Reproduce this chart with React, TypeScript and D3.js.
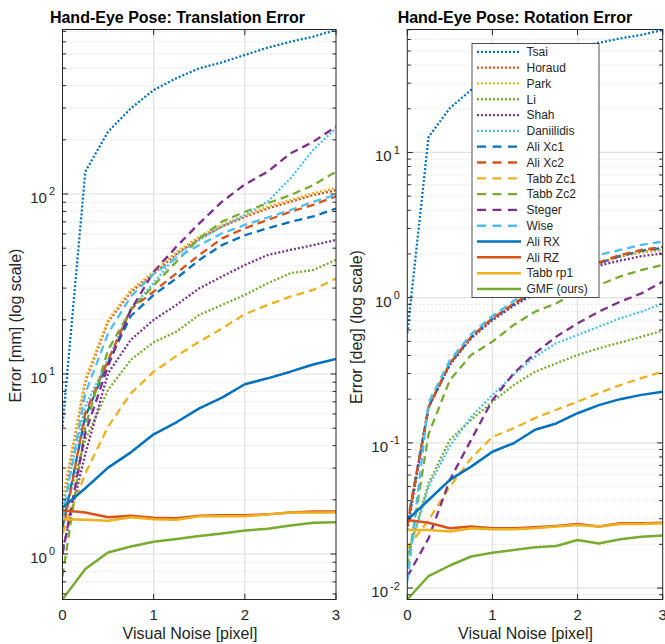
import React, { useEffect, useRef } from "react";
import * as d3 from "d3";

// noise levels on the x axis [pixel]
const noise = [0, 0.25, 0.5, 0.75, 1, 1.25, 1.5, 1.75, 2, 2.25, 2.5, 2.75, 3];

const methods = [
  "Tsai", "Horaud", "Park", "Li", "Shah", "Daniilidis",
  "Ali Xc1", "Ali Xc2", "Tabb Zc1", "Tabb Zc2", "Steger", "Wise",
  "Ali RX", "Ali RZ", "Tabb rp1", "GMF (ours)",
];

// translation error [mm]
const transTsai = [5.1, 133, 222, 299, 378, 440, 499, 539, 592, 650, 702, 748, 815];
const transHoraud = [1.9, 9.0, 19.5, 28.5, 36, 46.5, 56.5, 66, 74.5, 83, 90.5, 98.5, 105];
const transPark = [2.0, 9.3, 20, 29.3, 37, 47.8, 57.9, 67.3, 76.4, 85, 92.6, 101, 108];
const transLi = [1.55, 4.3, 8.15, 12, 15, 17.2, 21.3, 24.2, 27.5, 31.9, 36.3, 37.8, 43];
const transShah = [1.05, 3.6, 10.1, 15.5, 20, 24.2, 29.9, 34.8, 40.3, 45.8, 48.9, 52, 55.5];
const transDaniilidis = [1.8, 6.6, 12, 23, 32, 45.8, 55.5, 65.8, 76.4, 90.6, 122, 176, 232];
const transAliXc1 = [1.4, 5.8, 11.5, 21, 27.5, 34, 43, 52, 59, 64.5, 70, 75, 83];
const transAliXc2 = [1.3, 6.05, 11.9, 23, 28.7, 36.3, 45.8, 56.7, 64.5, 71.7, 79.7, 87, 97];
const transTabbZc1 = [1.3, 2.8, 5.1, 7.8, 10.3, 12.6, 15.1, 17.9, 21.5, 24.2, 26.9, 29.3, 34];
const transTabbZc2 = [0.75, 5.1, 13.6, 22.7, 31, 42.1, 56.7, 70.2, 79.7, 88.7, 98.7, 112, 133];
const transSteger = [1.0, 4.7, 11.1, 22.7, 37, 51, 68.7, 90.6, 113, 133, 168, 195, 237];
const transWise = [1.6, 7.8, 16.8, 27, 36, 44, 52, 60.5, 67.3, 74, 81.5, 90.6, 98.7];
const transAliRX = [1.81, 2.32, 3.02, 3.67, 4.62, 5.39, 6.44, 7.39, 8.77, 9.46, 10.3, 11.3, 12.1];
const transAliRZ = [1.75, 1.7, 1.6, 1.63, 1.59, 1.58, 1.63, 1.64, 1.64, 1.66, 1.7, 1.72, 1.72];
const transTabbRp1 = [1.56, 1.55, 1.53, 1.6, 1.56, 1.55, 1.62, 1.62, 1.62, 1.66, 1.7, 1.7, 1.7];
const transGMF = [0.56, 0.826, 1.02, 1.1, 1.17, 1.21, 1.26, 1.3, 1.35, 1.38, 1.44, 1.49, 1.5];

// rotation error [deg]
const rotTsai = [0.57, 12.8, 20.2, 27, 32, 37.5, 43, 48, 52.5, 57, 61, 64.5, 69.8];
const rotHoraud = [0.027, 0.178, 0.35, 0.535, 0.715, 0.9, 1.1, 1.3, 1.48, 1.72, 1.92, 2.06, 2.13];
const rotPark = [0.027, 0.179, 0.352, 0.537, 0.718, 0.905, 1.11, 1.31, 1.5, 1.74, 1.93, 2.07, 2.14];
const rotLi = [0.0165, 0.0527, 0.105, 0.144, 0.192, 0.25, 0.309, 0.353, 0.403, 0.448, 0.49, 0.538, 0.593];
const rotShah = [0.025, 0.175, 0.345, 0.525, 0.7, 0.88, 1.07, 1.25, 1.42, 1.66, 1.8, 1.93, 2.02];
const rotDaniilidis = [0.016, 0.0499, 0.095, 0.151, 0.214, 0.294, 0.393, 0.485, 0.553, 0.631, 0.721, 0.801, 0.914];
const rotAliXc1 = [0.028, 0.176, 0.35, 0.535, 0.715, 0.9, 1.1, 1.3, 1.48, 1.72, 1.94, 2.1, 2.2];
const rotAliXc2 = [0.027, 0.177, 0.353, 0.539, 0.721, 0.91, 1.12, 1.32, 1.5, 1.75, 1.97, 2.13, 2.24];
const rotTabbZc1 = [0.0188, 0.0294, 0.0499, 0.0783, 0.11, 0.126, 0.148, 0.169, 0.192, 0.22, 0.25, 0.279, 0.309];
const rotTabbZc2 = [0.014, 0.115, 0.271, 0.403, 0.498, 0.649, 0.8, 0.914, 1.1, 1.22, 1.4, 1.55, 1.68];
const rotSteger = [0.012, 0.022, 0.0556, 0.105, 0.197, 0.301, 0.414, 0.539, 0.666, 0.801, 0.938, 1.07, 1.29];
const rotWise = [0.011, 0.19, 0.37, 0.56, 0.75, 0.95, 1.18, 1.4, 1.6, 1.97, 2.13, 2.31, 2.43];
const rotAliRX = [0.0294, 0.0404, 0.0556, 0.0686, 0.0869, 0.0994, 0.123, 0.136, 0.16, 0.182, 0.2, 0.214, 0.225];
const rotAliRZ = [0.0294, 0.0282, 0.0258, 0.0265, 0.0258, 0.0258, 0.0262, 0.0268, 0.0276, 0.0265, 0.0279, 0.0279, 0.0282];
const rotTabbRp1 = [0.0251, 0.0251, 0.0245, 0.0258, 0.0254, 0.0254, 0.0258, 0.0265, 0.0272, 0.0265, 0.0276, 0.0276, 0.0279];
const rotGMF = [0.00834, 0.0121, 0.0143, 0.0165, 0.0175, 0.0183, 0.0191, 0.0195, 0.0214, 0.0203, 0.0217, 0.0226, 0.023];

// axis limits (tight to the data)
const transLimits = [0.5587, 820];
const rotLimits = [0.00834, 70.3];

const transSeries = [
  transTsai, transHoraud, transPark, transLi, transShah, transDaniilidis,
  transAliXc1, transAliXc2, transTabbZc1, transTabbZc2, transSteger, transWise,
  transAliRX, transAliRZ, transTabbRp1, transGMF,
];
const rotSeries = [
  rotTsai, rotHoraud, rotPark, rotLi, rotShah, rotDaniilidis,
  rotAliXc1, rotAliXc2, rotTabbZc1, rotTabbZc2, rotSteger, rotWise,
  rotAliRX, rotAliRZ, rotTabbRp1, rotGMF,
];

const BLUE = "#0072BD", RED = "#D95319", YELLOW = "#EDB120";
const GREEN = "#77AC30", PURPLE = "#7E2F8E", CYAN = "#4DBEEE";
const lineColors = [
  BLUE, RED, YELLOW, GREEN, PURPLE, CYAN,
  BLUE, RED, YELLOW, GREEN, PURPLE, CYAN,
  BLUE, RED, YELLOW, GREEN,
];
const lineDash = [
  "2,2", "2,2", "2,2", "2,2", "2,2", "2,2",
  "8,5", "8,5", "8,5", "8,5", "8,5", "8,5",
  null, null, null, null,
];

const FONT = "'Liberation Sans', Arial, Helvetica, sans-serif";
const AXIS = "#262626";

function drawPanel(root, p) {
  const g = root.append("g");
  const x = d3.scaleLinear().domain([0, 3]).range([p.left, p.right]);
  const y = d3.scaleLog().domain(p.limits).range([p.bottom, p.top]);

  const [lo, hi] = p.limits;
  const majors = [];
  const minors = [];
  for (let e = Math.floor(Math.log10(lo)); e <= Math.ceil(Math.log10(hi)); e++) {
    for (let k = 1; k <= 9; k++) {
      const v = k * Math.pow(10, e);
      if (v < lo * 0.9999 || v > hi * 1.0001) continue;
      if (k === 1) majors.push({ v, e });
      else minors.push({ v, e });
    }
  }
  const xTicks = [0, 1, 2, 3];

  // minor grid (dotted)
  g.append("g").selectAll("line").data(minors).enter().append("line")
    .attr("x1", p.left).attr("x2", p.right)
    .attr("y1", d => y(d.v)).attr("y2", d => y(d.v))
    .attr("stroke", "#bdbdbd").attr("stroke-width", 0.8)
    .attr("stroke-dasharray", "1,3");

  // major grid
  g.append("g").selectAll("line").data(majors).enter().append("line")
    .attr("x1", p.left).attr("x2", p.right)
    .attr("y1", d => y(d.v)).attr("y2", d => y(d.v))
    .attr("stroke", "#e0e0e0").attr("stroke-width", 1.2);
  g.append("g").selectAll("line").data(xTicks.slice(1, 3)).enter().append("line")
    .attr("x1", d => x(d)).attr("x2", d => x(d))
    .attr("y1", p.top).attr("y2", p.bottom)
    .attr("stroke", "#e0e0e0").attr("stroke-width", 1.2);

  // data lines
  g.append("clipPath").attr("id", p.clipId)
    .append("rect").attr("x", p.left).attr("y", p.top)
    .attr("width", p.right - p.left).attr("height", p.bottom - p.top);

  const line = d3.line().x((d, i) => x(noise[i])).y(d => y(d));
  const lines = g.append("g").attr("clip-path", `url(#${p.clipId})`);
  p.series.forEach((vals, i) => {
    lines.append("path")
      .attr("d", line(vals))
      .attr("fill", "none")
      .attr("stroke", lineColors[i])
      .attr("stroke-width", lineDash[i] ? 2.3 : 2.5)
      .attr("stroke-linejoin", "round")
      .attr("stroke-dasharray", lineDash[i]);
  });

  // box and ticks
  g.append("rect")
    .attr("x", p.left).attr("y", p.top)
    .attr("width", p.right - p.left).attr("height", p.bottom - p.top)
    .attr("fill", "none").attr("stroke", AXIS).attr("stroke-width", 1);

  const ticks = g.append("g").attr("stroke", AXIS).attr("stroke-width", 1);
  xTicks.forEach(t => {
    ticks.append("line").attr("x1", x(t)).attr("x2", x(t)).attr("y1", p.bottom).attr("y2", p.bottom - 5.5);
    ticks.append("line").attr("x1", x(t)).attr("x2", x(t)).attr("y1", p.top).attr("y2", p.top + 5.5);
  });
  majors.concat(minors).forEach(d => {
    const len = minors.includes(d) ? 3.5 : 5.5;
    ticks.append("line").attr("x1", p.left).attr("x2", p.left + len).attr("y1", y(d.v)).attr("y2", y(d.v));
    ticks.append("line").attr("x1", p.right).attr("x2", p.right - len).attr("y1", y(d.v)).attr("y2", y(d.v));
  });

  // tick labels
  g.append("g").selectAll("text").data(xTicks).enter().append("text")
    .attr("x", d => x(d)).attr("y", p.bottom + 20.5)
    .attr("text-anchor", "middle")
    .attr("font-family", FONT).attr("font-size", 15).attr("fill", AXIS)
    .text(d => d);

  const yl = g.append("g").selectAll("text").data(majors).enter().append("text")
    .attr("x", p.left - 7.5).attr("y", d => y(d.v) + 9)
    .attr("text-anchor", "end")
    .attr("font-family", FONT).attr("font-size", 15).attr("fill", AXIS);
  yl.append("tspan").text("10");
  yl.append("tspan").attr("dx", 2).attr("dy", -7.5).attr("font-size", 11).text(d => d.e);

  // title and axis labels
  g.append("text")
    .attr("x", p.titleX).attr("y", 22.5)
    .attr("text-anchor", "middle")
    .attr("font-family", FONT).attr("font-size", 16).attr("font-weight", "bold")
    .attr("fill", "#000")
    .text(p.title);
  g.append("text")
    .attr("x", p.xlabelX).attr("y", 639)
    .attr("text-anchor", "middle")
    .attr("font-family", FONT).attr("font-size", 16).attr("fill", AXIS)
    .text("Visual Noise [pixel]");
  g.append("text")
    .attr("transform", `translate(${p.ylabelX},${p.ylabelY}) rotate(-90)`)
    .attr("text-anchor", "middle")
    .attr("font-family", FONT).attr("font-size", 16).attr("fill", AXIS)
    .text(p.ylabel);
}

function drawLegend(root) {
  const box = { x: 472, y: 43.5, w: 127, h: 254 };
  const row = d3.scaleLinear().domain([0, methods.length - 1]).range([51.8, 289]);
  const lg = root.append("g");
  lg.append("rect")
    .attr("x", box.x).attr("y", box.y).attr("width", box.w).attr("height", box.h)
    .attr("fill", "#fff").attr("stroke", AXIS).attr("stroke-width", 0.8);
  methods.forEach((m, i) => {
    lg.append("line")
      .attr("x1", 477).attr("x2", 521)
      .attr("y1", row(i)).attr("y2", row(i))
      .attr("stroke", lineColors[i])
      .attr("stroke-width", lineDash[i] ? 2.3 : 2.5)
      .attr("stroke-dasharray", lineDash[i] === "8,5" ? "9,6.5" : lineDash[i]);
    lg.append("text")
      .attr("x", 526.5).attr("y", row(i) + 4.3)
      .attr("font-family", FONT).attr("font-size", 12).attr("fill", AXIS)
      .text(m);
  });
}

const App = () => {
  const svgRef = useRef(null);

  useEffect(() => {
    const svg = d3.select(svgRef.current);
    svg.selectAll("*").remove();

    drawPanel(svg, {
      left: 62.5, right: 336, top: 29.5, bottom: 599.5,
      limits: transLimits, series: transSeries, clipId: "clipT",
      title: "Hand-Eye Pose: Translation Error", titleX: 177.5,
      xlabelX: 190, ylabel: "Error [mm] (log scale)", ylabelX: 21, ylabelY: 325.5,
    });
    drawPanel(svg, {
      left: 407.3, right: 662.7, top: 29.5, bottom: 599.5,
      limits: rotLimits, series: rotSeries, clipId: "clipR",
      title: "Hand-Eye Pose: Rotation Error", titleX: 515,
      xlabelX: 525.5, ylabel: "Error [deg] (log scale)", ylabelX: 362.3, ylabelY: 327,
    });
    drawLegend(svg);
  }, []);

  return (
    <svg
      ref={svgRef}
      width={665}
      height={644}
      style={{ position: "absolute", left: 0, top: 0, background: "#fff" }}
    />
  );
};

export default App;
